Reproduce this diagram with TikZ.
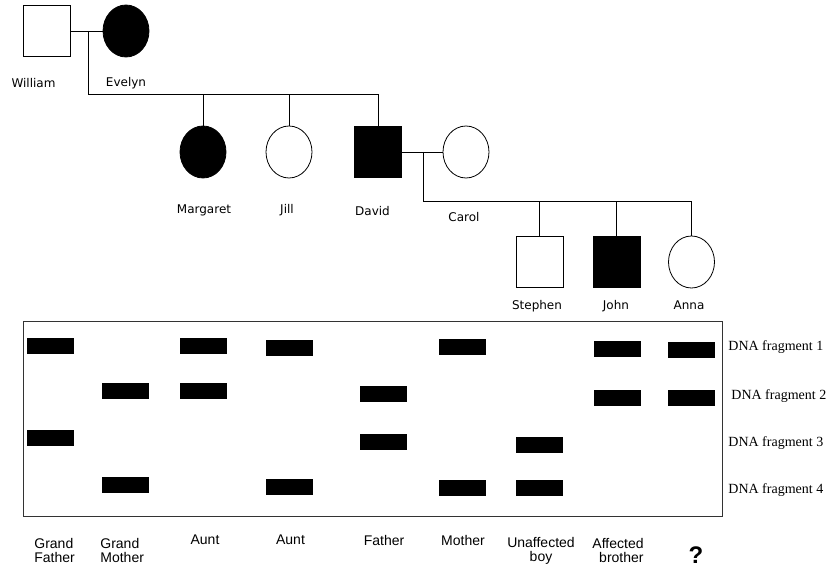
\documentclass[tikz,border=0pt]{standalone}
\usepackage{fontspec}
\usetikzlibrary{shapes.geometric}
\newfontfamily\pedfont{DejaVu Sans}
\newfontfamily\lanefont{Liberation Sans}
\newfontfamily\fragfont{Liberation Serif}
\tikzset{
male/.style={draw,rectangle,minimum width=47pt,minimum height=51pt,inner sep=0pt},
female/.style={draw,ellipse,minimum width=46pt,minimum height=52pt,inner sep=0pt},
affected/.style={fill=black},
pname/.style={font=\pedfont\fontsize{12}{14}\selectfont,inner sep=0pt,anchor=base},
lane/.style={font=\lanefont\fontsize{14}{14}\selectfont,inner sep=0pt},
frag/.style={font=\fragfont\fontsize{14}{16}\selectfont,inner sep=0pt,anchor=base west}
}
\begin{document}
\begin{tikzpicture}[x=1pt,y=-1pt,line width=0.8pt]
\useasboundingbox (0,0) rectangle (828,567);
\node[male] (william) at (46.5,31) {};
\node[female,affected] (evelyn) at (126,31) {};
\node[female,affected] (margaret) at (203,152) {};
\node[female] (jill) at (289,152) {};
\node[male,affected] (david) at (378,152) {};
\node[female] (carol) at (466,152) {};
\node[male] (stephen) at (539.5,262) {};
\node[male,affected] (john) at (616.5,262) {};
\node[female] (anna) at (691.5,262) {};
\coordinate (wemid) at (88,31);
\coordinate (gen2) at (88,94);
\coordinate (dcmid) at (423,152);
\coordinate (gen3) at (423,201);
\draw (william) -- (evelyn);
\draw (wemid) -- (gen2) -| (david.north);
\draw (margaret.north) -- (margaret.north |- gen2);
\draw (jill.north) -- (jill.north |- gen2);
\draw (david) -- (carol);
\draw (dcmid) -- (gen3) -| (anna.north);
\draw (stephen.north) -- (stephen.north |- gen3);
\draw (john.north) -- (john.north |- gen3);
\foreach \n/\x/\y in {William/33.5/88,Evelyn/126/87,Margaret/204/214,Jill/287/214,David/372.5/215,Carol/464/222,Stephen/537/309,John/616/309,Anna/689/309}
\node[pname] (lbl\n) at (\x,\y) {\n};
\draw[black!80] (23,321) rectangle (722,516);
\foreach \x/\y in {50.5/346,50.5/438,125/391,125/485,203/346,203/391,289.5/348,289.5/487,383.5/394,383.5/442,462.5/347,462.5/488,539.5/445,539.5/488,617/349,617/398,691/350,691/398}
\fill (\x-23.5,\y-8) rectangle ++(47,16);
\foreach \x/\y [count=\i] in {728/350,731/399,728/446,728/493}
\node[frag] (frag\i) at (\x,\y) {DNA fragment \i};
\node[lane,align=left,anchor=west] (lanegf) at (34,550) {Grand\\Father};
\node[lane,align=left,anchor=west] (lanegm) at (100,550) {Grand\\Mother};
\foreach \x/\t [count=\i] in {205/Aunt,290.5/Aunt,384/Father,463/Mother}
\node[lane] (lane\i) at (\x,540) {\t};
\node[lane,align=center] (laneub) at (541,551) {Unaffected\\boy};
\node[lane,align=right,anchor=east] (laneab) at (644,550) {Affected\\brother};
\node[font=\lanefont\bfseries\fontsize{24}{24}\selectfont,inner sep=0pt,anchor=base] (laneq) at (696,563) {?};
\end{tikzpicture}
\end{document}
